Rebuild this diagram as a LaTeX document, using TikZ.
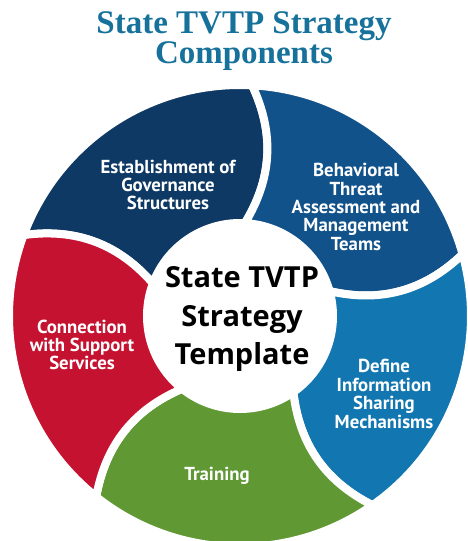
\documentclass[tikz,border=0pt]{standalone}
\usepackage{fontspec}
\setmainfont{Liberation Serif}
\newfontfamily\ptsans{PT Sans}
\newfontfamily\opensans{Open Sans}
\usetikzlibrary{positioning}
\definecolor{titleteal}{RGB}{22,113,155}
\definecolor{govnavy}{RGB}{14,57,100}
\definecolor{threatblue}{RGB}{17,82,138}
\definecolor{sharingblue}{RGB}{18,118,176}
\definecolor{traingreen}{RGB}{96,152,52}
\definecolor{supportred}{RGB}{196,18,48}

\begin{document}
\begin{tikzpicture}[%
    x=1pt,
    y=1pt,
    seg/.style={%
      draw=white,
      line width=8pt,
      line join=round
    },
    lbl/.style={%
      text=white,
      align=center,
      font=\ptsans\bfseries\fontsize{18.8}{18.4}\selectfont
    }
  ]
    \useasboundingbox (-240,-225) rectangle (227,316);

    \path[seg, fill=govnavy] (159.5:231) arc[start angle=159.5, end angle=87, radius=231]
          .. controls (79:185) and (77:140) .. (87:93)
          arc[start angle=87, end angle=159.5, radius=93]
          .. controls (149.5:140) and (151.5:185) .. (159.5:231) -- cycle;
    \path[seg, fill=threatblue] (87:231) arc[start angle=87, end angle=15.5, radius=231]
          .. controls (7.5:185) and (5.5:140) .. (15.5:93)
          arc[start angle=15.5, end angle=87, radius=93]
          .. controls (77:140) and (79:185) .. (87:231) -- cycle;
    \path[seg, fill=sharingblue] (15.5:231) arc[start angle=15.5, end angle=-55, radius=231]
          .. controls (-63:185) and (-65:140) .. (-55:93)
          arc[start angle=-55, end angle=15.5, radius=93]
          .. controls (5.5:140) and (7.5:185) .. (15.5:231) -- cycle;
    \path[seg, fill=traingreen] (-55:231) arc[start angle=-55, end angle=-128.5, radius=231]
          .. controls (-136.5:185) and (-138.5:140) .. (-128.5:93)
          arc[start angle=-128.5, end angle=-55, radius=93]
          .. controls (-65:140) and (-63:185) .. (-55:231) -- cycle;
    \path[seg, fill=supportred] (-128.5:231) arc[start angle=-128.5, end angle=-200.5, radius=231]
          .. controls (-208.5:185) and (-210.5:140) .. (-200.5:93)
          arc[start angle=-200.5, end angle=-128.5, radius=93]
          .. controls (-138.5:140) and (-136.5:185) .. (-128.5:231) -- cycle;

    \node[text=titleteal, align=center, font=\bfseries\fontsize{33}{29}\selectfont] (title) at (4,275)
          {State TVTP Strategy\\Components};
    \node[align=center, font=\opensans\bfseries\fontsize{29}{38.5}\selectfont] (template) at (2,-3)
          {State TVTP\\Strategy\\Template};

    \node[lbl] (governance) at (-72,131)  {Establishment of\\Governance\\Structures};
    \node[lbl] (threat)     at (116,109)  {Behavioral\\Threat\\Assessment and\\Management\\Teams};
    \node[lbl] (sharing)    at (144,-78)  {Define\\Information\\Sharing\\Mechanisms};
    \node[lbl] (training)   at (-23,-160) {Training};
    \node[lbl] (support)    at (-158,-29) {Connection\\with Support\\Services};
  \end{tikzpicture}
\end{document}
